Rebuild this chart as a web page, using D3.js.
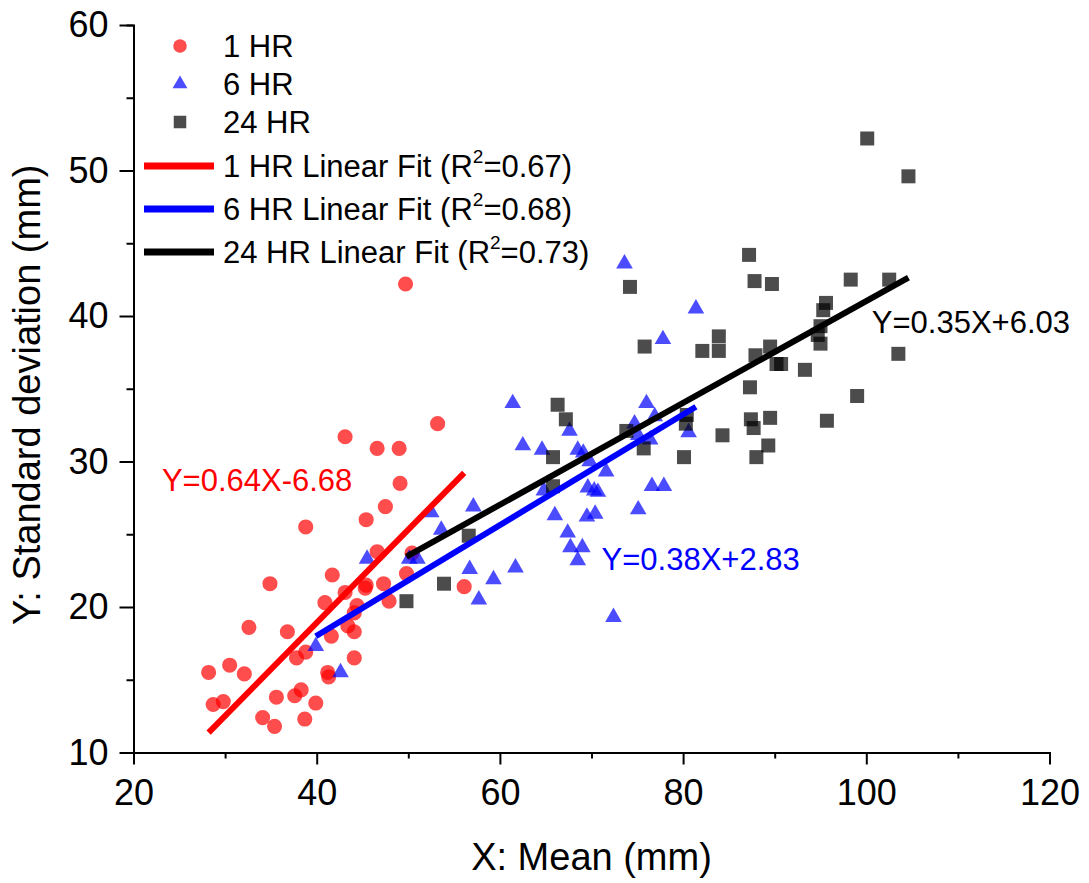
<!DOCTYPE html>
<html>
<head>
<meta charset="utf-8">
<script src="https://cdn.jsdelivr.net/npm/d3@7"></script>
<style>
  html, body { margin: 0; padding: 0; background: #fff; }
  svg { display: block; font-family: Arial, 'Liberation Sans', sans-serif; }
</style>
</head>
<body>
<div id="chart"></div>
<script>
// [mean, sd] pairs
const hr1Points = [
  [49.7, 42.2], [53.2, 32.6], [43.1, 31.7], [46.6, 30.9], [49.0, 30.9], [49.1, 28.5],
  [47.5, 26.9], [45.4, 26.0], [38.8, 25.5], [46.6, 23.8], [50.4, 23.7], [49.8, 22.3],
  [41.7, 22.2], [34.9, 21.6], [45.4, 21.5], [47.3, 21.6], [45.3, 21.3], [56.1, 21.4],
  [43.1, 21.0], [40.9, 20.3], [47.9, 20.4], [44.4, 20.1], [44.1, 19.6], [32.6, 18.6],
  [36.8, 18.3], [43.4, 18.7], [44.1, 18.3], [41.6, 18.0], [38.8, 16.9], [37.8, 16.5],
  [44.1, 16.5], [28.2, 15.5], [30.5, 16.0], [32.1, 15.4], [41.2, 15.5], [41.3, 15.2],
  [28.7, 13.3], [29.8, 13.5], [35.6, 13.8], [37.6, 13.9], [38.3, 14.3], [39.9, 13.4],
  [34.1, 12.4], [38.7, 12.3], [35.4, 11.8]
];

const hr6Points = [
  [61.4, 34.0], [67.6, 32.1], [76.0, 34.0], [76.9, 33.1], [74.7, 32.6], [75.1, 31.8],
  [76.4, 31.5], [80.6, 32.0], [62.5, 31.1], [64.6, 30.8], [68.5, 30.8], [69.1, 30.6],
  [69.8, 30.0], [71.6, 29.3], [64.8, 28.0], [69.6, 28.2], [70.3, 28.0], [70.7, 27.9],
  [76.6, 28.3], [77.9, 28.3], [52.5, 26.5], [57.1, 26.9], [66.0, 26.3], [69.5, 26.2],
  [70.4, 26.4], [75.1, 26.7], [53.6, 25.3], [67.4, 25.1], [67.7, 24.1], [69.0, 24.1],
  [68.5, 23.2], [45.5, 23.3], [50.1, 23.3], [51.0, 23.3], [56.7, 22.6], [61.7, 22.7],
  [59.3, 21.9], [57.7, 20.5], [72.4, 19.3], [39.9, 17.3], [42.6, 15.5], [73.6, 43.6],
  [81.4, 40.5], [77.8, 38.4]
];

const hr24Points = [
  [100.1, 52.2], [104.6, 49.6], [87.2, 44.2], [74.2, 42.0], [87.8, 42.4], [89.7, 42.2],
  [98.3, 42.5], [102.5, 42.5], [95.6, 40.9], [95.3, 40.4], [95.0, 39.3], [94.7, 38.7],
  [95.0, 38.1], [103.5, 37.4], [75.8, 37.9], [82.1, 37.6], [83.9, 38.6], [83.9, 37.6],
  [87.9, 37.3], [89.5, 37.9], [90.2, 36.7], [90.7, 36.7], [93.3, 36.3], [87.3, 35.1],
  [99.0, 34.5], [87.4, 32.9], [89.5, 33.0], [87.7, 32.3], [95.7, 32.8], [84.3, 31.8],
  [89.3, 31.1], [88.0, 30.3], [80.1, 30.3], [66.3, 33.9], [67.2, 32.9], [65.8, 30.3],
  [80.4, 33.2], [80.3, 32.6], [75.7, 30.9], [73.8, 32.1], [65.8, 28.3], [56.6, 24.9],
  [53.9, 21.6], [49.8, 20.4]
];

const seriesNames = ['1 HR', '6 HR', '24 HR'];
const fitSlopes = [0.64, 0.38, 0.35];
const fitIntercepts = [-6.68, 2.83, 6.03];
const fitR2 = ['0.67', '0.68', '0.73'];
const fitEquations = ['Y=0.64X-6.68', 'Y=0.38X+2.83', 'Y=0.35X+6.03'];

const xTicks = [20, 40, 60, 80, 100, 120];
const xMinorTicks = [30, 50, 70, 90, 110];
const yTicks = [10, 20, 30, 40, 50, 60];
const yMinorTicks = [15, 25, 35, 45, 55];

const width = 1089;
const height = 883;
const colors = ['#ff0000', '#0000ff', '#000000'];
const symbols = [d3.symbolCircle, d3.symbolTriangle, d3.symbolSquare];
const symbolSizes = [180, 120, 196];

const svg = d3.select('#chart')
  .append('svg')
  .attr('width', width)
  .attr('height', height);

const x = d3.scaleLinear().domain([20, 120]).range([133.5, 1049.5]);
const y = d3.scaleLinear().domain([10, 60]).range([752.5, 25]);

// scatter points
const allSeries = [hr1Points, hr6Points, hr24Points];
allSeries.forEach((pts, i) => {
  svg.append('g')
    .attr('class', 'series-' + i)
    .selectAll('path')
    .data(pts)
    .join('path')
    .attr('transform', d => `translate(${x(d[0])},${y(d[1])})`)
    .attr('d', d3.symbol().type(symbols[i]).size(symbolSizes[i]))
    .attr('fill', colors[i])
    .attr('fill-opacity', 0.7);
});

// linear fits over each series' x range
allSeries.forEach((pts, i) => {
  const [x0, x1] = d3.extent(pts, d => d[0]);
  const f = v => fitSlopes[i] * v + fitIntercepts[i];
  svg.append('line')
    .attr('x1', x(x0))
    .attr('y1', y(f(x0)))
    .attr('x2', x(x1))
    .attr('y2', y(f(x1)))
    .attr('stroke', colors[i])
    .attr('stroke-width', 6);
});

// equation labels
const eqPos = [[23.1, 28.0], [71.1, 22.55], [100.6, 38.85]];
fitEquations.forEach((t, i) => {
  svg.append('text')
    .attr('x', x(eqPos[i][0]))
    .attr('y', y(eqPos[i][1]))
    .attr('font-size', 31)
    .attr('fill', colors[i])
    .text(t);
});

// axes
function styleAxis(g) {
  g.select('.domain').attr('stroke', '#000').attr('stroke-width', 2);
  g.selectAll('.tick line').attr('stroke', '#000').attr('stroke-width', 2);
  g.selectAll('.tick text').attr('font-size', 36).attr('fill', '#000')
    .attr('font-family', "Arial, 'Liberation Sans', sans-serif");
}

svg.append('g')
  .attr('transform', `translate(0,${y(10)})`)
  .call(d3.axisBottom(x).tickValues(xMinorTicks).tickSize(6).tickFormat(''))
  .call(styleAxis);
svg.append('g')
  .attr('transform', `translate(${x(20)},0)`)
  .call(d3.axisLeft(y).tickValues(yMinorTicks).tickSize(7).tickFormat(''))
  .call(styleAxis);

svg.append('g')
  .attr('transform', `translate(0,${y(10)})`)
  .call(d3.axisBottom(x).tickValues(xTicks).tickSize(12).tickSizeOuter(0).tickPadding(15))
  .call(styleAxis);
svg.append('g')
  .attr('transform', `translate(${x(20)},0)`)
  .call(d3.axisLeft(y).tickValues(yTicks).tickSize(14).tickSizeOuter(0).tickPadding(11))
  .call(styleAxis);

// axis titles
svg.append('text')
  .attr('x', (x(20) + x(120)) / 2)
  .attr('y', 870)
  .attr('text-anchor', 'middle')
  .attr('font-size', 38)
  .text('X: Mean (mm)');
svg.append('text')
  .attr('transform', `translate(40,${(y(10) + y(60)) / 2 + 6}) rotate(-90)`)
  .attr('text-anchor', 'middle')
  .attr('font-size', 38)
  .text('Y: Standard deviation (mm)');

// legend
const legend = svg.append('g').attr('class', 'legend-container');
const legendSymbolX = 180;
const legendTextX = 223;
const legendRows = [46, 84, 122, 166, 209, 252];

seriesNames.forEach((name, i) => {
  legend.append('path')
    .attr('transform', `translate(${legendSymbolX},${legendRows[i]})`)
    .attr('d', d3.symbol().type(symbols[i]).size(symbolSizes[i] * 0.8))
    .attr('fill', colors[i])
    .attr('fill-opacity', 0.7);
  legend.append('text')
    .attr('x', legendTextX)
    .attr('y', legendRows[i])
    .attr('dy', '0.35em')
    .attr('font-size', 31)
    .text(name);
});

seriesNames.forEach((name, i) => {
  const row = legendRows[i + 3];
  legend.append('line')
    .attr('x1', 144)
    .attr('x2', 214)
    .attr('y1', row)
    .attr('y2', row)
    .attr('stroke', colors[i])
    .attr('stroke-width', 7);
  const t = legend.append('text')
    .attr('x', legendTextX)
    .attr('y', row)
    .attr('dy', '0.35em')
    .attr('font-size', 31);
  t.append('tspan').text(`${name} Linear Fit (R`);
  t.append('tspan').attr('font-size', 19).attr('dy', '-0.75em').text('2');
  t.append('tspan').attr('dy', '0.45em').text(`=${fitR2[i]})`);
});
</script>
</body>
</html>
